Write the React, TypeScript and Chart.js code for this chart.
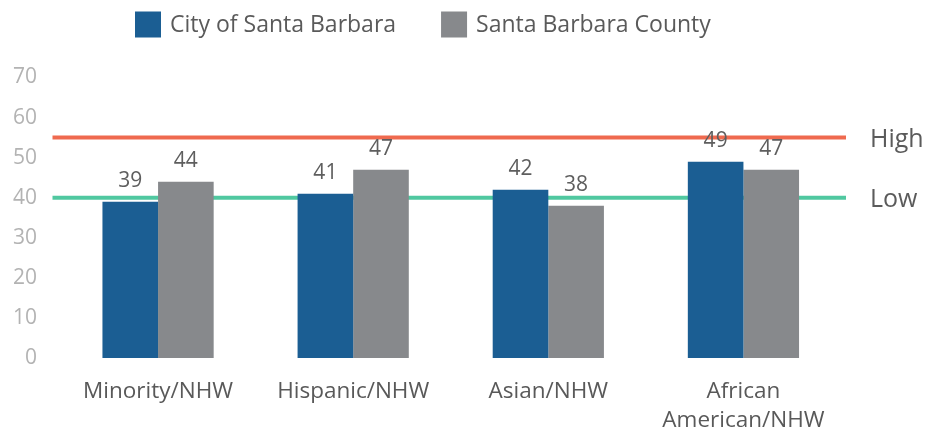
import React, { useEffect, useRef } from "react";
import { Chart, registerables } from "chart.js";

Chart.register(...registerables);

const categories: (string | string[])[] = [
  "Minority/NHW",
  "Hispanic/NHW",
  "Asian/NHW",
  ["African", "American/NHW"],
];
const seriesNames = ["City of Santa Barbara", "Santa Barbara County"];
const cityValues = [39, 41, 42, 49];
const countyValues = [44, 47, 38, 47];
const thresholdValues = [55, 40];
const thresholdLabels = ["High", "Low"];
const yMin = 0;
const yMax = 70;
const yStep = 10;

const FONT = "'Open Sans', 'Noto Sans', sans-serif";
const BLUE = "#1b5e93";
const GRAY = "#87898c";
const THRESHOLD_COLORS = ["#ef6a4f", "#50c8a0"];

const thresholdPlugin = {
  id: "thresholds",
  beforeDatasetsDraw(chart: any) {
    const { ctx, chartArea, scales } = chart;
    const y = scales.y;
    ctx.save();
    thresholdValues.forEach((v, i) => {
      const py = y.getPixelForValue(v);
      ctx.beginPath();
      ctx.strokeStyle = THRESHOLD_COLORS[i];
      ctx.lineWidth = 4;
      ctx.moveTo(chartArea.left - 8, py);
      ctx.lineTo(chartArea.right + 5, py);
      ctx.stroke();
    });
    ctx.restore();
  },
  afterDraw(chart: any) {
    const { ctx, chartArea, scales } = chart;
    const y = scales.y;
    ctx.save();
    ctx.font = `25px ${FONT}`;
    ctx.fillStyle = "#5b5b5b";
    ctx.textAlign = "left";
    ctx.textBaseline = "alphabetic";
    thresholdValues.forEach((v, i) => {
      const py = y.getPixelForValue(v);
      ctx.fillText(thresholdLabels[i], chartArea.right + 29, py + 9);
    });
    ctx.restore();
  },
};

const dataLabelPlugin = {
  id: "dataLabels",
  afterDatasetsDraw(chart: any) {
    const { ctx } = chart;
    ctx.save();
    ctx.font = `21px ${FONT}`;
    ctx.fillStyle = "#5e5e5e";
    ctx.textAlign = "center";
    ctx.textBaseline = "alphabetic";
    chart.data.datasets.forEach((ds: any, di: number) => {
      const meta = chart.getDatasetMeta(di);
      meta.data.forEach((bar: any, i: number) => {
        ctx.fillText(String(ds.data[i]), bar.x, bar.y - 15);
      });
    });
    ctx.restore();
  },
};

const legendPlugin = {
  id: "customLegend",
  afterDraw(chart: any) {
    const { ctx, chartArea } = chart;
    ctx.save();
    ctx.font = `23px ${FONT}`;
    ctx.textBaseline = "middle";
    ctx.textAlign = "left";
    let x = chartArea.left + 74.5;
    const top = 3.5;
    const box = 26;
    chart.data.datasets.forEach((ds: any) => {
      ctx.fillStyle = ds.backgroundColor;
      ctx.fillRect(x, top, box, box);
      x += box + 9;
      ctx.fillStyle = "#5a5a5a";
      ctx.fillText(ds.label, x, top + box / 2 + 1);
      x += ctx.measureText(ds.label).width + 45;
    });
    ctx.restore();
  },
};

export default function App() {
  const canvasRef = useRef<HTMLCanvasElement | null>(null);

  useEffect(() => {
    if (!canvasRef.current) return;
    const chart = new Chart(canvasRef.current, {
      type: "bar",
      data: {
        labels: categories,
        datasets: [
          {
            label: seriesNames[0],
            data: cityValues,
            backgroundColor: BLUE,
            categoryPercentage: 0.57,
            barPercentage: 1.0,
          },
          {
            label: seriesNames[1],
            data: countyValues,
            backgroundColor: GRAY,
            categoryPercentage: 0.57,
            barPercentage: 1.0,
          },
        ],
      },
      options: {
        responsive: true,
        maintainAspectRatio: false,
        animation: false,
        layout: { padding: { top: 69.5, right: 84, left: 0, bottom: 0 } },
        plugins: {
          legend: { display: false },
          tooltip: { enabled: false },
        },
        scales: {
          x: {
            grid: { display: false, drawTicks: false },
            border: { display: false },
            afterFit: (s: any) => {
              s.height = 84;
            },
            ticks: {
              color: "#595959",
              font: { family: FONT, size: 22.5, lineHeight: 1.29 },
              padding: 19.5,
              maxRotation: 0,
              autoSkip: false,
            },
          },
          y: {
            min: yMin,
            max: yMax,
            grid: { display: false, drawTicks: false },
            border: { display: false },
            afterFit: (s: any) => {
              s.width = 52.5;
            },
            ticks: {
              stepSize: yStep,
              color: "#b3b3b3",
              font: { family: FONT, size: 21 },
              padding: 23.5,
            },
          },
        },
      },
      plugins: [thresholdPlugin, dataLabelPlugin, legendPlugin],
    });
    return () => chart.destroy();
  }, []);

  return (
    <div style={{ height: 428, overflow: "hidden", marginBottom: -8 }}>
      <div style={{ position: "relative", width: "100%", height: 434 }}>
        <canvas ref={canvasRef} />
      </div>
    </div>
  );
}
